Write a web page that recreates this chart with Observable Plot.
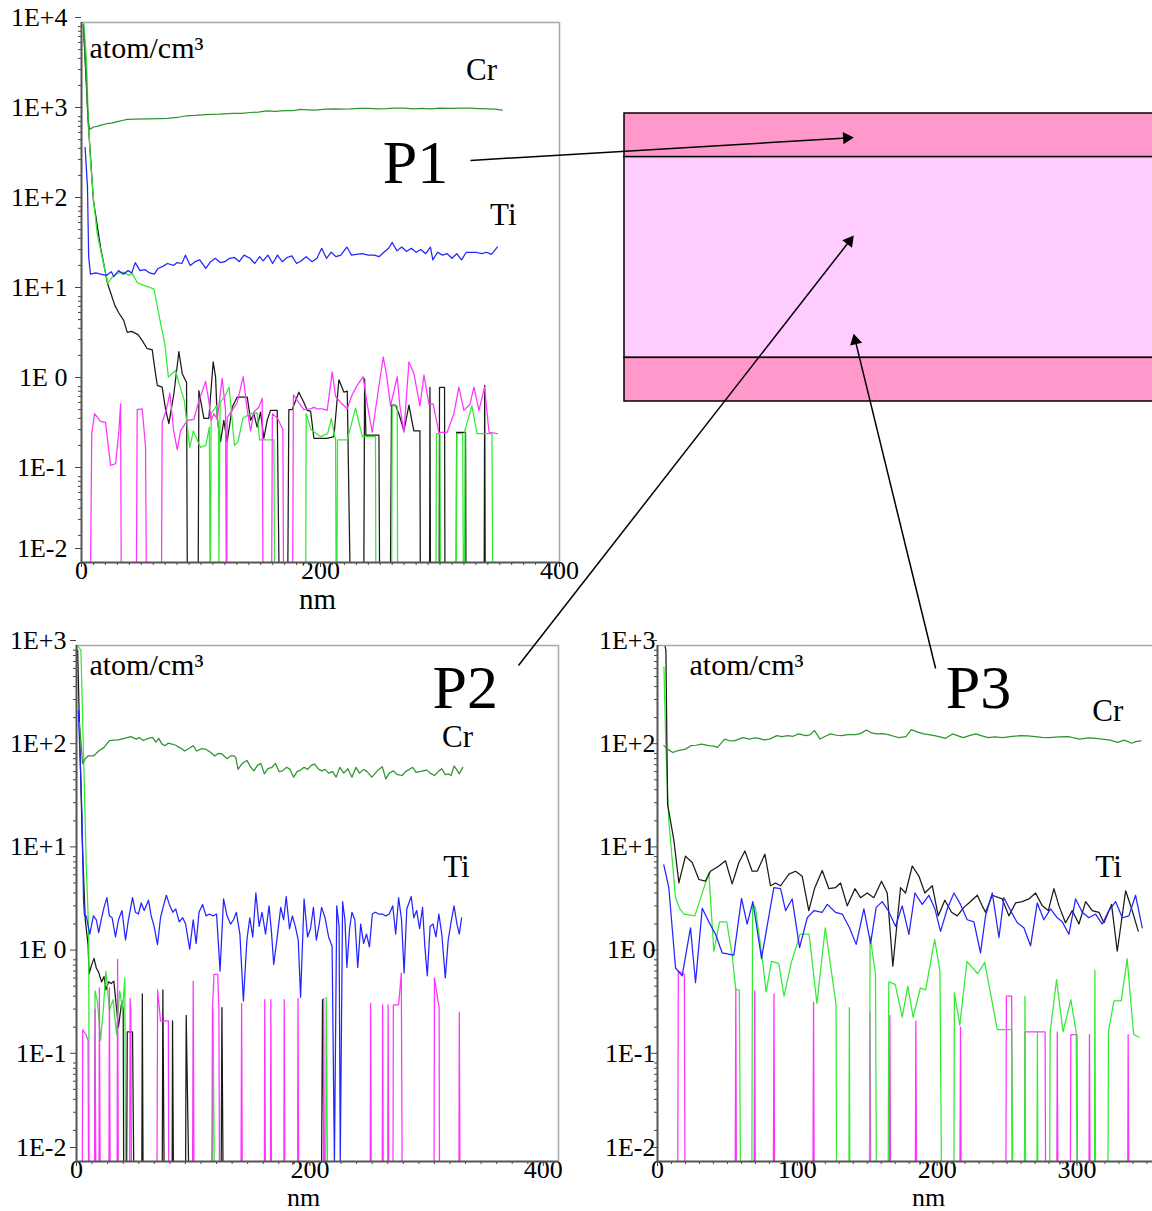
<!DOCTYPE html>
<html><head><meta charset="utf-8">
<script src="https://cdn.jsdelivr.net/npm/d3@7"></script>
<script src="https://cdn.jsdelivr.net/npm/@observablehq/plot@0.6"></script>
<style>
body{margin:0;background:#fff;overflow:hidden}
#fig{position:relative;width:1152px;height:1211px;overflow:hidden;background:#fff}
#fig svg{position:absolute}
</style></head><body><div id="fig"></div>
<script>
// ---------------- DATA (depth nm, concentration) ----------------
// Panel P1
const p1_Cr = [[1.6,9500],[4,2500],[5.5,800],[7,650],[10,690],[13,700],[17,730],[21,750],[25,760],[30,790],[35,820],[38,840],[45,845],[55,850],[65,855],[72,860],[80,880],[88,920],[95,930],[104,950],[115,960],[127,980],[134,975],[141,1000],[148,1010],[155,1040],[162,1030],[170,1050],[177,1050],[183,1080],[190,1070],[196,1060],[204,1090],[211,1100],[218,1090],[225,1095],[233,1110],[240,1110],[248,1100],[255,1105],[262,1120],[270,1115],[278,1100],[285,1110],[292,1100],[300,1115],[309,1110],[317,1120],[325,1120],[333,1105],[340,1095],[346,1090],[352,1060]];
const p1_Ti = [[3,410],[5,150],[6,25],[7.5,16],[12,16.5],[16,16],[21,15.5],[25,17],[27,15],[31,17.5],[35,16],[39,17.5],[42,16.5],[45,21.5],[49,17.5],[53,18],[57,16.5],[61,16],[64,18.5],[68,19.5],[72,21],[77,20],[80,21.5],[84,21],[87,26],[91,20],[95,22],[99,23],[104,18.5],[108,22],[112,24],[116,21.5],[120,22],[124,24],[128,24.5],[132,22],[136,26],[141,24],[145,21],[149,25],[152,22.5],[156,26],[160,21],[164,26],[168,22],[172,24.5],[176,25.5],[180,21],[184,22.5],[188,25],[193,22],[197,24],[201,31],[205,24],[209,28],[213,25],[217,26],[222,32],[226,26],[230,26.5],[235,27],[240,26],[245,26],[249,25],[253,28],[257,31],[260,36],[264,29],[268,32],[272,28.5],[276,31],[280,28],[284,30],[288,27],[292,32],[294,23],[298,28],[302,26],[306,27],[310,24],[314,27],[318,23],[322,28],[326,28],[330,28],[335,27],[339,28],[343,26.5],[348,32]];
const p1_black = [[1.5,9500],[5.9,680],[10,105],[15.9,32],[21.8,12.6],[24.3,10],[27.9,7.2],[31,6],[35.3,4.9],[38.3,3.6],[42,3.7],[47.3,3.4],[51,2.9],[54.7,2.4],[59.2,2.3],[61.1,1.5],[63.4,0.93],[67.5,0.89],[70.3,0.51],[73.1,0.35],[77.3,0.75],[81.5,2.2],[84.3,1.25],[87.9,1.0],[88.5,0],[97.7,0],[98.2,0.81],[102.4,0.4],[106.6,0.4],[110.2,1.7],[112.2,1.15],[113.6,0.4],[116.4,0.22],[119.1,0.38],[121.9,0.22],[126.1,0.53],[130.3,0.69],[138.7,0.69],[141.5,0.38],[144.2,0.45],[147,0.32],[149.8,0.47],[152.6,0.24],[155.4,0.38],[158.2,0.49],[163.8,0.49],[165.2,0],[172.7,0],[173.5,0.5],[176.3,0.5],[181.9,0.78],[186.1,0.6],[188.9,0.49],[191.7,0.48],[194.5,0.24],[205.6,0.24],[211.2,0.25],[215.4,1.07],[219.6,0.78],[222.4,0.8],[224.6,0],[236.3,0],[236.9,1.1],[238,0.26],[248.9,0.26],[249.4,0],[258.6,0],[259.4,0.56],[262.8,0.56],[265.6,0.45],[269.8,0.29],[274,0.56],[278.1,0.29],[283.2,0.29],[283.5,0],[291.3,0],[291.6,0.88],[292,0],[299.3,0],[299.6,0.88],[303.8,0.88],[304.1,0],[313.6,0],[313.9,0.28],[321.4,0.28],[321.7,0],[337,0],[337.4,0.93],[337.8,0],[352,0]];
const p1_lime = [[1.9,10000],[4.2,3800],[5.6,890],[7.5,293],[10,110],[13.1,45],[18.4,21],[22,12.6],[25.7,14.8],[29.9,16.3],[35.4,16.8],[39.6,15.5],[42.4,16.3],[46.6,12.9],[52.1,12],[56.3,11.5],[60.7,10.9],[65.2,5.3],[69.7,2.7],[72.7,1.15],[78.7,1.36],[81.7,0.97],[86,0.63],[90.6,0.19],[93.6,0.29],[99.6,0.19],[104,0.2],[107,0.32],[107.5,0],[108,0],[108.5,0.45],[113,0.55],[114.6,0.3],[115,0],[116,0.6],[120,0.7],[123.5,0.89],[128,0.2],[131,0.22],[135,0.4],[141,0.45],[147,0.46],[149,0.23],[161,0.23],[161.5,0],[187.7,0],[188,0.45],[192,0.3],[200,0.25],[206,0.27],[209,0.4],[212.6,0.23],[213,0],[213.8,0],[214.2,0.23],[222.4,0.23],[229.3,0.52],[235,0.25],[246,0.25],[246.3,0],[259.6,0],[260,0.55],[264.2,0.55],[264.5,0],[296.7,0],[297,0.27],[300,0.27],[300.3,0],[313.7,0],[314,0.27],[319,0.27],[319.5,0],[320.5,0],[321,0.3],[326.7,0.55],[331,0.27],[343.5,0.27],[344,0]];
const p1_magenta = [[7.6,0],[8.6,0.27],[10.9,0.45],[15.9,0.37],[20.1,0.36],[24.3,0.12],[28.5,0.125],[31.3,0.29],[32.7,0.58],[33.2,0],[46,0],[46.6,0.5],[50.8,0.51],[53.6,0.19],[54.2,0],[67,0],[67.5,0.36],[71,0.5],[74,0.76],[77,0.3],[80.1,0.18],[82.9,0.29],[88.5,0.38],[94,0.39],[98.2,0.62],[103.8,1.03],[106.6,0.62],[108.5,0.38],[110.8,0.45],[113.6,0.39],[117.7,1.11],[120.5,0.5],[121.1,0],[121.6,0],[121.9,0.41],[126.1,0.49],[130.3,0.6],[135.3,1.16],[138.7,0.49],[141.5,0.29],[144.2,0.47],[148.4,0.53],[151.2,0.67],[151.8,0],[159.2,0],[159.7,0.45],[164,0.4],[168.5,0.3],[169,0],[176.8,0],[177.3,0.73],[181.7,0.6],[186,0.5],[191.7,0.51],[194.5,0.53],[197.3,0.51],[201.5,0.51],[205.6,0.49],[209.8,1.31],[212.6,0.7],[216.8,0.6],[222.4,0.51],[226.5,0.73],[230.7,0.93],[235.7,1.16],[239.1,0.57],[243.3,0.28],[246.9,0.6],[252.5,1.92],[255.3,1.21],[258.6,0.55],[264.2,1.16],[266.4,0.55],[269.8,0.28],[274,1.69],[278.1,1.26],[283.2,0.55],[286.6,1.21],[290.8,0.57],[294.3,0.58],[299,0.28],[306,0.28],[311.6,0.45],[315.8,0.89],[320,0.49],[325,0.57],[328.4,0.89],[332.6,0.49],[337.3,0.89],[341,0.28],[348,0.27]];

// Panel P2
const p2_Cr = [[2.5,180],[5.2,71.5],[7.5,80],[9.9,85],[14.5,85],[19,95],[23.6,103],[28.2,120],[32,121],[35.9,122],[41,126],[46.6,131],[51.2,124],[54,128],[57.3,120],[61,125],[65,129],[68,116],[70.5,126],[73,112],[75.7,107],[78.5,113],[81.8,111],[85,108],[88,103],[90.3,100],[92.5,95],[96,100],[100,107],[103,95],[107,100],[110.8,99],[114.5,93],[118.5,85],[121.5,90],[124.6,89],[129,80],[132,85],[135,85],[136.5,82],[138.4,63],[142,72],[146,77],[149,67],[152,61],[155,69],[158,72],[161,57],[164,64],[167.5,66],[170.5,72],[173.5,60],[176.5,61],[180,66],[183,63],[186,53],[189,60],[192,62],[195,66],[198,63],[201,69],[204,71],[207,64],[210,61],[213,63],[216,58],[219.5,60],[222.5,53],[225.6,66],[229,58],[232.5,64],[236,53],[239.4,66],[242.5,58],[246,63],[249,60],[253,53],[256,58],[259,63],[262,67],[265,51],[268,58],[271.5,61],[275,56],[279,55],[282,60],[285,63],[288,66],[291,59],[294,60],[297,61],[300,62],[303,58],[306.7,55],[310,60],[313,64],[316,56],[319,57],[321,55],[323.5,68],[326,62],[328,57],[331,66]];
const p2_Ti = [[1.6,234],[3.5,60],[4.7,23],[6,3.5],[6.8,2.4],[8.3,2.4],[11.4,1.6],[14.5,2.4],[17,2.2],[19,1.65],[21.5,2.3],[23.6,2.9],[26,3.6],[28.2,2.4],[30.5,2.3],[33.4,1.5],[36,2.2],[39,2.7],[42,1.4],[44.5,2.2],[48,3.6],[50.5,2.6],[53,2.5],[55.5,3.2],[58,2.7],[61.7,3.4],[64,2.4],[66.5,1.9],[69.4,1.26],[72,2.3],[74.5,3.0],[77,3.8],[80,3.0],[82.5,2.6],[85,2.8],[88,2.1],[91,2.3],[93.5,2.0],[97,1.14],[100,2.2],[102.5,1.3],[105,2.6],[108,3.1],[111,2.4],[114,2.5],[117,2.4],[120,2.5],[123,0.7],[126,3.5],[129,2.4],[132,2.0],[134.5,2.2],[137,2.6],[140,1.6],[143,0.36],[146,1.4],[148.5,2.3],[151,1.5],[153.7,4.0],[156.5,1.9],[159,2.6],[162,1.6],[165,3.0],[167,1.7],[169,0.81],[172,1.5],[175,2.9],[177.5,2.2],[179.7,3.7],[182.5,1.8],[185,2.4],[187.5,1.9],[190,1.4],[192,0.39],[195,3.5],[198,1.5],[200.5,1.8],[203,2.9],[205.5,1.4],[208,2.0],[210,2.9],[213,2.3],[216,1.5],[219,1.22],[221,0],[223,3.0],[225,1.9],[226,0],[228,3.3],[230,2.2],[231.7,0.76],[234,1.8],[236,2.6],[238.5,2.2],[241,0.76],[243.5,2.0],[246,1.3],[248.5,1.6],[251,1.2],[253.5,2.5],[256,2.6],[259,2.5],[262,2.5],[265,2.4],[268,2.5],[271,3.0],[273.5,1.6],[276,3.6],[278.5,2.2],[280.7,0.67],[283,2.8],[286.8,3.7],[289,2.3],[291.5,2.7],[294,1.8],[296.5,2.9],[298.5,1.2],[300.6,0.63],[303,1.9],[305.5,2.0],[308,1.5],[310.5,2.5],[313,1.6],[316,0.6],[318.5,1.4],[321,2.1],[323.5,3.0],[326,2.0],[328,1.6],[330,2.3]];
const p2_black = [[1,900],[3,100],[5,12],[7.5,2.2],[9.9,1.26],[10.8,0.66],[12.9,0.8],[15,0.93],[17,0.75],[19,0.68],[21.5,0.55],[23.6,0.62],[25.2,0.46],[27.5,0.55],[29.7,0.53],[32,0.56],[35.9,0.2],[38.9,0.36],[40,0.3],[40.4,0],[43,0],[43.5,0.18],[48,0.18],[49,0],[56,0],[56.4,0.42],[57,0],[73.5,0],[74,0.46],[75,0],[82,0],[82.3,0.23],[83,0],[93.5,0],[94,0.26],[96,0],[124,0],[124.6,0.31],[125.5,0],[210,0],[210.8,0.37],[212,0],[333,0]];
const p2_lime = [[0.5,1000],[3.8,900],[5.5,150],[6.8,39],[8.3,7.6],[9.9,2.5],[10.5,1.4],[10.8,0],[15.5,0],[15.9,0.45],[18,0.35],[20.6,0.15],[23,0.3],[25.2,0.7],[28.2,0.29],[31.3,0.37],[34.3,0.17],[37,0.45],[39.5,0.3],[41.4,0.6],[42,0],[116.5,0],[117,0.3],[118,0],[213.5,0],[214,0.39],[215,0],[333,0]];
const p2_magenta = [[5,0],[5.3,0.19],[8,0.17],[9.9,0.15],[10.3,0],[15.5,0],[15.9,0.3],[16.5,0],[19.3,0],[19.6,0.48],[20.2,0],[27.8,0],[28.2,0.48],[28.8,0],[34.8,0],[35.2,0.91],[35.8,0],[45.6,0],[46,0.38],[46.5,0.3],[47,0],[69,0],[69.5,0.46],[72,0.23],[78.7,0.23],[79,0],[99.5,0],[100,0.56],[100.6,0],[116,0],[116.5,0.3],[117.8,0.65],[121,0.65],[122,0.3],[122.5,0],[141,0],[141.5,0.34],[142,0],[161,0],[161.3,0.37],[161.8,0],[166.2,0],[166.5,0.37],[167,0],[177.7,0],[178,0.37],[178.5,0],[189.5,0],[189.8,0.38],[190.3,0],[211.5,0],[211.8,0.38],[212.3,0],[251.7,0],[252,0.34],[252.5,0],[262,0],[262.3,0.33],[262.8,0],[266.7,0],[267,0.33],[267.5,0],[271.2,0],[271.5,0.33],[276,0.33],[278.3,0.67],[279,0],[306.4,0],[306.7,0.6],[310.7,0.31],[311,0],[327.7,0],[328,0.28],[328.5,0]];

// Panel P3
const p3_Cr = [[4.6,107],[7.2,99],[11,92],[14.9,96],[20,99],[23.9,107],[27.5,108],[31.5,111],[36.7,107],[40,106],[43,103],[48,124],[51,120],[54.6,119],[58,123],[61,128],[66,124],[69,127],[72.6,126],[76,122],[80,124],[85.4,134],[89,131],[93,134],[97,132],[100.8,139],[106,134],[109,136],[112.3,150],[116.2,124],[120,132],[123.8,139],[128,135],[131.6,134],[136,137],[141.8,137],[145,140],[149.5,152],[153,142],[157,139],[161,140],[165,137],[169,132],[172.5,128],[177.7,131],[181.5,153],[186,145],[190.5,139],[194,137],[198,134],[202,130],[206,126],[211,139],[215,133],[218.7,128],[223,134],[227.7,139],[232,133],[236.6,128],[241,130],[246.8,128],[252,131],[259.6,134],[265,133],[270,131],[275,129],[280,128],[287,130],[294,131],[298,127],[302,124],[308,127],[313.6,126],[318,124],[323.8,121],[329,115],[334,121],[339,113],[342,117],[345.6,119]];
const p3_Ti = [[4.5,7.5],[8.1,4.5],[12.9,0.75],[17.6,0.63],[23.6,1.84],[27.2,0.54],[32,2.85],[36.7,2.1],[41.5,1.59],[46.3,1.05],[54.6,1.0],[60.1,3.55],[64.1,2.0],[68.2,3.3],[74.4,0.93],[83.2,4.5],[88,4.4],[91.6,2.7],[96.3,3.5],[101.6,1.18],[107.1,2.3],[111.8,2.7],[117.8,2.6],[121.4,3.1],[127.3,2.6],[132.1,2.5],[137.3,1.84],[142.1,1.27],[147.6,2.8],[152.4,1.3],[156.4,2.9],[160.7,3.3],[165,2.7],[170.2,1.9],[175,3.0],[179.8,1.59],[184.1,4.0],[189.3,3.1],[194.1,3.8],[198.4,2.8],[202.4,1.7],[207.2,2.8],[212,4.0],[216.7,3.1],[221.5,2.2],[226.3,2.1],[231,1.05],[234.6,2.4],[239.4,4.0],[244.2,1.48],[247.7,3.6],[252.5,2.7],[257.3,2.06],[262,1.84],[266.8,1.23],[271.6,3.2],[276.3,2.2],[281.1,2.8],[285.9,2.3],[289.5,2.1],[294.2,1.59],[299,3.5],[303.8,2.6],[308.5,2.3],[313.3,2.5],[318.1,2.0],[322.8,2.7],[327.6,3.3],[332.4,2.3],[337.1,2.4],[341.9,3.8],[346.7,1.84]];
const p3_black = [[2.5,1500],[6,900],[7.2,29],[11.7,13],[15.3,5.0],[20,9.1],[24.8,7.9],[29.6,5.4],[34.3,5.2],[37.9,6.5],[43.9,7.3],[48.6,8.2],[53.4,4.9],[58.2,7.9],[62.5,10.2],[67.7,6.5],[71.3,6.5],[76.8,9.5],[80.8,4.7],[84.4,5.0],[88,4.7],[94,6.1],[98.7,6.5],[103.5,5.8],[108.2,2.7],[112.5,4.5],[117.8,6.6],[122.6,4.4],[127.3,4.5],[130.9,5.0],[135.7,3.0],[141.2,4.4],[145.2,3.6],[150,4.0],[154.7,3.6],[160.2,5.2],[164.3,4.0],[168.3,0.78],[173.8,4.5],[177.4,4.0],[182.2,7.3],[187,5.8],[191.2,4.0],[196.5,4.7],[200.8,2.4],[205.5,3.4],[210.3,2.6],[214.4,2.4],[219.1,2.9],[222.7,3.2],[228.7,3.8],[232.2,3.0],[234.6,2.6],[239.4,3.8],[246.5,3.5],[251.3,2.4],[256.1,3.2],[260.8,3.3],[265.6,3.5],[270.4,4.0],[275.2,3.0],[279.5,2.7],[283.5,4.4],[287.1,3.0],[291.8,2.06],[296.6,2.7],[301.4,2.0],[306.2,3.3],[310.9,2.7],[315.7,2.6],[319.3,2.06],[324.7,3.1],[328.8,1.09],[334.8,4.2],[339.5,2.7],[343.8,1.71]];
const p3_lime = [[4.6,616],[6,100],[8.1,20],[12.9,3.6],[16,2.8],[19,2.5],[26.7,2.4],[36.7,6.3],[40.3,1.09],[44.4,2.1],[49.5,2.1],[53.4,1.0],[56,0.46],[58.5,0.46],[59.3,0],[67.5,0],[68,3.1],[70,2.9],[74.6,1.0],[77.7,0.44],[81.5,0.87],[86.7,0.83],[90.5,0.4],[95.6,0.84],[102,1.6],[108.4,1.6],[114,0.34],[120,1.84],[127.7,0.33],[128,0],[136.9,0],[137.2,0.31],[137.5,0],[151.7,0],[152,1.53],[155.9,0.65],[156.5,0],[165,0],[165.4,0.55],[170,0.52],[175,0.25],[179,0.5],[182.8,0.25],[188,0.48],[191.8,0.46],[198.2,1.42],[202,0.7],[203,0],[212,0],[212.3,0.43],[216.2,0.21],[221.3,0.87],[229,0.66],[234,0.85],[243,0.19],[253.3,0.19],[254,0],[262.5,0],[262.8,0.4],[263.2,0],[271.4,0],[271.7,0.18],[272,0],[280.5,0],[280.8,0.18],[285.4,0.58],[290,0.18],[295.6,0.37],[299.4,0.18],[300,0],[312.5,0],[312.8,0.71],[313.2,0],[322.2,0],[322.5,0.18],[326.4,0.36],[331.6,0.36],[335.9,0.92],[340.5,0.17],[344.4,0.16]];
const p3_magenta = [[14.5,0],[14.9,0.7],[19.2,0.65],[19.6,0],[55.6,0],[56,0.48],[56.4,0],[69.1,0],[69.5,0.45],[69.9,0],[82.9,0],[83.3,0.42],[83.7,0],[111.2,0],[111.6,0.35],[112,0],[151.6,0],[152,0.28],[152.4,0],[165.8,0],[166.2,0.26],[166.6,0],[184.4,0],[184.8,0.23],[185.2,0],[216.3,0],[216.7,0.2],[217.1,0],[249.2,0],[249.5,0.4],[253.3,0.4],[253.6,0],[262.5,0],[262.8,0.18],[277.2,0.18],[277.5,0],[285.6,0],[285.9,0.18],[286.3,0],[295.3,0],[295.6,0.17],[300,0.17],[300.3,0],[308.6,0],[308.9,0.17],[309.3,0],[336.3,0],[336.6,0.17],[337,0]];

// Annotations (panel data coordinates: nm, concentration)
const unitText = "atom/cm³";
const xAxisText = "nm";
const p1_labels = [{t:"Cr",x:334.7,y:2930,s:31},{t:"Ti",x:353,y:72,s:31},{t:"P1",x:279.5,y:271,s:62}];
const p2_labels = [{t:"Cr",x:326.5,y:130,s:31},{t:"Ti",x:325.6,y:7.1,s:31},{t:"P2",x:333,y:383,s:62}];
const p3_labels = [{t:"Cr",x:322,y:229,s:31},{t:"Ti",x:322.6,y:7.1,s:31},{t:"P3",x:229.6,y:383,s:62}];
const unitPos = [{x:6.7,y:5150},{x:11.1,y:640},{x:22.9,y:640}];
const nmPos = [197.5, 194.5, 193.8];

// Schematic of the layer stack (relative thickness) and arrows
const layerNames = ["top", "middle", "bottom"];
const layerThickness = [1, 4.6, 1];
const layerFill = ["#ff99cc", "#ffccff", "#ff99cc"];
const arrowFrom = [{x:325.5,y:293},{x:378.7,y:640},{x:198.9,y:598}];   // in P1, P2, P3 data coords
const arrowTo = [{x:0.434,y:0.55},{x:0.434,y:2.8},{x:0.434,y:5.05}];    // in schematic coords

// ---------------- DRAWING ----------------
const serif = '"Liberation Serif","Times New Roman",serif';
const COL = {Cr:"#2f932f", Ti:"#2424ff", black:"#1a1a1a", lime:"#33ea33", magenta:"#ff33ff"};
const fmtE = d => { const e = Math.round(Math.log10(d)); return e === 0 ? "1E 0" : (e > 0 ? "1E+" + e : "1E" + e); };
const decades = (lo, hi) => d3.range(lo, hi + 1).map(e => 10 ** e);
const minors = (lo, hi) => d3.range(lo, hi).flatMap(e => d3.range(2, 10).map(k => k * 10 ** e));

function panel(cfg) {
  const ymin = 10 ** cfg.yExp[0], ymax = 10 ** cfg.yExp[1];
  const dec = decades(cfg.yExp[0], cfg.yExp[1]);
  const lines = cfg.series.map(([data, color]) =>
    Plot.line(data, {x: d => d[0], y: d => Math.max(d[1], ymin), stroke: color, strokeWidth: 1.25, clip: true}));
  const marks = [
    ...lines,
    Plot.ruleY([ymax], {stroke: "#a8a8a8", strokeWidth: 1.5}),
    cfg.right ? Plot.ruleX([cfg.xDomain[1]], {stroke: "#a8a8a8", strokeWidth: 1.5}) : null,
    Plot.axisY(minors(cfg.yExp[0], cfg.yExp[1]), {tickSize: 3, tickFormat: () => "", stroke: "#444", label: null}),
    Plot.axisY(dec.slice(1), {tickSize: 6, tickPadding: cfg.yPad, tickFormat: fmtE, dy: -5, stroke: "#444", label: null, fontSize: 26}),
    Plot.axisY(dec.slice(0, 1), {tickSize: 6, tickPadding: cfg.yPad, tickFormat: fmtE, dy: -14, stroke: "#444", label: null, fontSize: 26}),
    Plot.axisX(cfg.xMinor, {tickSize: 3, tickFormat: () => "", stroke: "#444", label: null}),
    Plot.axisX(cfg.xLabels, {tickSize: 5, tickPadding: -7, tickFormat: d => String(d), stroke: "#444", label: null, fontSize: 26}),
    Plot.ruleX([cfg.xDomain[0]], {stroke: "#555", strokeWidth: 2}),
    Plot.ruleY([ymin], {stroke: "#555", strokeWidth: 2}),
    Plot.text(cfg.labels, {x: "x", y: "y", text: "t", fontSize: "s", textAnchor: "middle", fill: "black"}),
    Plot.text([cfg.unit], {x: "x", y: "y", text: () => unitText, fontSize: 30, textAnchor: "start", fill: "black"}),
    Plot.text([xAxisText], {x: cfg.nmX, frameAnchor: "bottom", lineAnchor: "middle", dy: cfg.nmDy, fontSize: cfg.nmSize, fill: "black"})
  ].filter(Boolean);
  const p = Plot.plot({
    width: cfg.width, height: cfg.height,
    marginLeft: cfg.mL, marginRight: cfg.mR, marginTop: cfg.mT, marginBottom: cfg.mB,
    style: {fontFamily: serif, fontSize: "26px", background: "transparent", color: "#000", overflow: "visible"},
    x: {domain: cfg.xDomain},
    y: {type: "log", domain: [ymin, ymax]},
    marks
  });
  p.style.left = cfg.off[0] + "px";
  p.style.top = cfg.off[1] + "px";
  return p;
}

const fig = document.getElementById("fig");
const offs = [[0, 0], [0, 600], [580, 600]];

const P1 = panel({off: offs[0], width: 570, height: 612, mL: 81, mR: 11, mT: 22, mB: 50, nmDy: 37, nmSize: 29,
  xDomain: [0, 400], yExp: [-2, 4], xMinor: d3.range(0, 401, 10), xLabels: [0, 200, 400], yPad: 8, right: true, nmX: nmPos[0], unit: unitPos[0],
  series: [[p1_black, COL.black], [p1_lime, COL.lime], [p1_magenta, COL.magenta], [p1_Ti, COL.Ti], [p1_Cr, COL.Cr]], labels: p1_labels});
const P2 = panel({off: offs[1], width: 570, height: 611, mL: 76, mR: 12, mT: 45, mB: 50, nmDy: 36, nmSize: 26,
  xDomain: [0, 413], yExp: [-2, 3], xMinor: d3.range(0, 413, 40 / 3), xLabels: [0, 200, 400], yPad: 4, right: true, nmX: nmPos[1], unit: unitPos[1],
  series: [[p2_black, COL.black], [p2_lime, COL.lime], [p2_magenta, COL.magenta], [p2_Ti, COL.Ti], [p2_Cr, COL.Cr]], labels: p2_labels});
const P3 = panel({off: offs[2], width: 572, height: 611, mL: 77, mR: 0, mT: 45, mB: 50, nmDy: 36, nmSize: 26,
  xDomain: [0, 354], yExp: [-2, 3], xMinor: d3.range(0, 354, 10), xLabels: [0, 100, 200, 300], yPad: -4, right: false, nmX: nmPos[2], unit: unitPos[2],
  series: [[p3_magenta, COL.magenta], [p3_lime, COL.lime], [p3_black, COL.black], [p3_Ti, COL.Ti], [p3_Cr, COL.Cr]], labels: p3_labels});
fig.append(P1, P2, P3);

// schematic
let acc = 0;
const layers = layerNames.map((n, i) => { const y1 = acc; acc += layerThickness[i]; return {name: n, y1, y2: acc, fill: layerFill[i]}; });
const schemOff = [600, 90];
const schem = Plot.plot({
  width: 552, height: 320, marginLeft: 24, marginRight: 0, marginTop: 23, marginBottom: 9,
  style: {background: "transparent"},
  x: {domain: [0, 1], axis: null},
  y: {domain: [acc, 0], axis: null},
  color: {type: "identity"},
  marks: [Plot.rect(layers, {x1: 0, x2: 1.05, y1: "y1", y2: "y2", fill: "fill", stroke: "black", strokeWidth: 1.5})]
});
schem.style.left = schemOff[0] + "px";
schem.style.top = schemOff[1] + "px";
fig.append(schem);

// overlay arrows (page pixels computed through each plot's own scales)
const pg = (plot, off, x, y) => [off[0] + plot.scale("x").apply(x), off[1] + plot.scale("y").apply(y)];
const panels = [P1, P2, P3];
const arrows = arrowFrom.map((s, i) => {
  const [x1, y1] = pg(panels[i], offs[i], s.x, s.y);
  const [x2, y2] = pg(schem, schemOff, arrowTo[i].x, arrowTo[i].y);
  const L = Math.hypot(x2 - x1, y2 - y1), ux = (x2 - x1) / L, uy = (y2 - y1) / L;
  return {x1, y1, x2, y2, hx: x2 - 7 * ux, hy: y2 - 7 * uy, rot: Math.atan2(ux, -uy) * 180 / Math.PI};
});
const overlay = Plot.plot({
  width: 1152, height: 1211, margin: 0,
  style: {background: "transparent", pointerEvents: "none"},
  x: {domain: [0, 1152], range: [0, 1152], axis: null},
  y: {domain: [0, 1211], range: [0, 1211], axis: null},
  marks: [
    Plot.link(arrows, {x1: "x1", y1: "y1", x2: "hx", y2: "hy", stroke: "black", strokeWidth: 1.5}),
    Plot.dot(arrows, {x: "hx", y: "hy", symbol: "triangle", r: 4.6, fill: "black", stroke: "none", rotate: "rot"})
  ]
});
overlay.style.left = "0px"; overlay.style.top = "0px";
fig.append(overlay);
</script></body></html>
